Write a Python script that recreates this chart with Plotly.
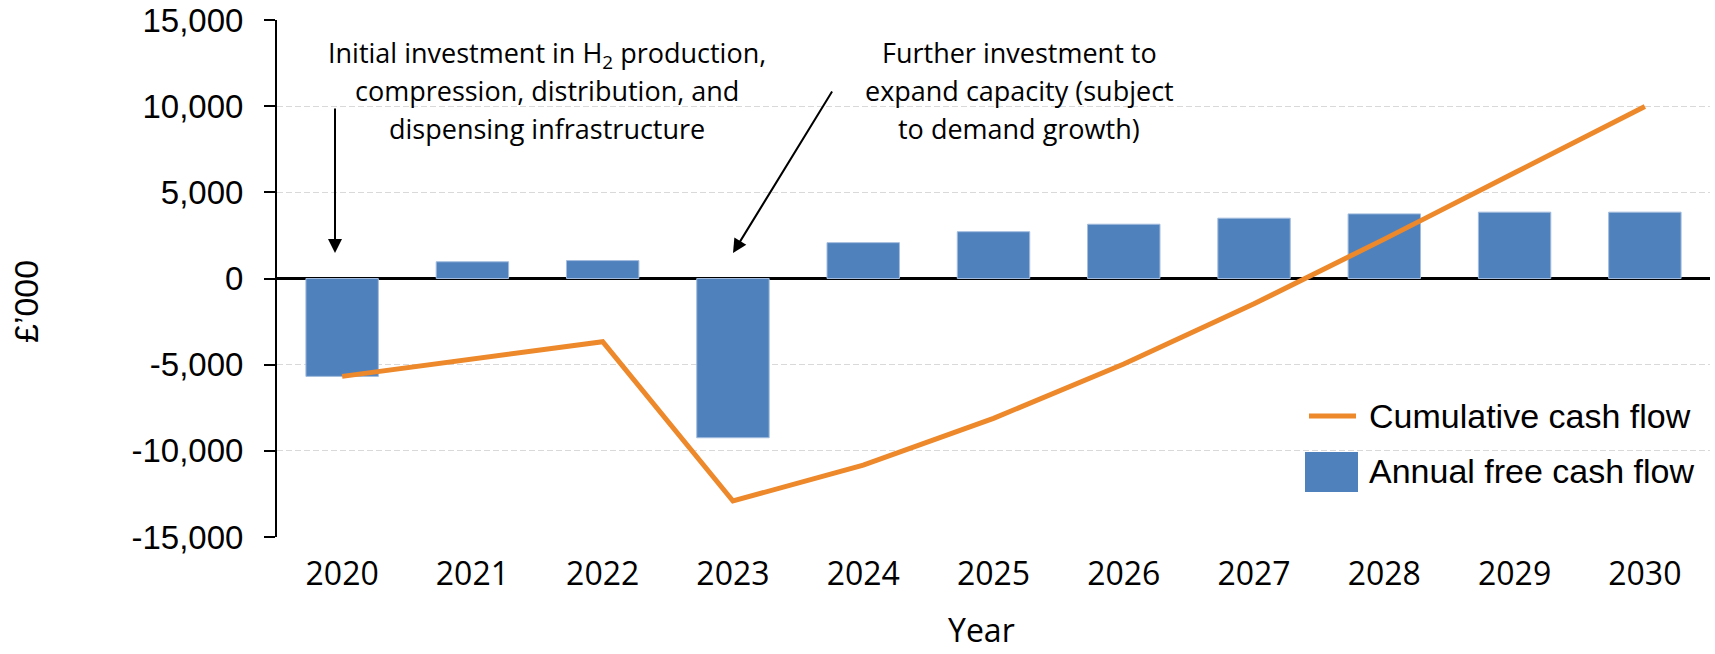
import plotly.graph_objects as go

# ---------------- data ----------------
years = ["2020", "2021", "2022", "2023", "2024", "2025", "2026", "2027", "2028", "2029", "2030"]
annual_fcf = [-5680, 970, 1040, -9240, 2080, 2715, 3150, 3500, 3750, 3850, 3850]
cumulative_cf = [-5680, -4710, -3670, -12910, -10830, -8115, -4965, -1465, 2285, 6135, 9985]
y_tickvals = [-15000, -10000, -5000, 0, 5000, 10000, 15000]
y_ticktext = ["-15,000", "-10,000", "-5,000", "0", "5,000", "10,000", "15,000"]

BLUE = "#4F81BD"
ORANGE = "#ED882B"

W, H = 1715, 654
L, R, T, B = 277, 5, 20, 117
PW, PH = W - L - R, H - T - B


def px(x):
    return (x - L) / PW


def py(y):
    return (H - B - y) / PH


fig = go.Figure()
fig.add_trace(go.Bar(
    x=years, y=annual_fcf, name="Annual free cash flow",
    marker=dict(color=BLUE, line=dict(color="#A3BCDD", width=1)),
    showlegend=False,
))
fig.add_trace(go.Scatter(
    x=years, y=cumulative_cf, name="Cumulative cash flow", mode="lines",
    line=dict(color=ORANGE, width=5), showlegend=False,
))

ann_font = dict(family="Open Sans", size=27, color="black")
annotations = []
block1 = ["Initial investment in H<sub>2</sub> production,",
          "compression, distribution, and",
          "dispensing infrastructure"]
block2 = ["Further investment to",
          "expand capacity (subject",
          "to demand growth)"]
for txt, yy in zip(block1, [54, 90, 128]):
    annotations.append(dict(x=px(547), y=py(yy), xref="paper", yref="paper",
                            text=txt, showarrow=False, font=ann_font,
                            xanchor="center", yanchor="middle"))
for txt, yy in zip(block2, [52, 90, 128]):
    annotations.append(dict(x=px(1019), y=py(yy), xref="paper", yref="paper",
                            text=txt, showarrow=False, font=ann_font,
                            xanchor="center", yanchor="middle"))

# arrows
annotations.append(dict(x=px(335), y=py(253), xref="paper", yref="paper", text="",
                        showarrow=True, ax=0, ay=-146, arrowhead=2, arrowsize=1.4,
                        arrowwidth=2, arrowcolor="black", standoff=0))
annotations.append(dict(x=px(733), y=py(253), xref="paper", yref="paper", text="",
                        showarrow=True, ax=100, ay=-163, arrowhead=2, arrowsize=1.4,
                        arrowwidth=2, arrowcolor="black", standoff=0))

# axis titles
annotations.append(dict(x=px(26), y=py(301), xref="paper", yref="paper", text="£’000",
                        showarrow=False, textangle=-90,
                        font=dict(family="Liberation Sans, Arial", size=34, color="black"),
                        xanchor="center", yanchor="middle"))
annotations.append(dict(x=px(981), y=py(653), xref="paper", yref="paper", text="Year",
                        showarrow=False,
                        font=dict(family="Open Sans", size=32, color="black"),
                        xanchor="center", yanchor="bottom"))

# custom legend
leg_font = dict(family="Liberation Sans, Arial", size=34, color="black")
annotations.append(dict(x=px(1367), y=py(416), xref="paper", yref="paper",
                        text="Cumulative cash flow", showarrow=False, font=leg_font,
                        xanchor="left", yanchor="middle"))
annotations.append(dict(x=px(1367), y=py(471), xref="paper", yref="paper",
                        text="Annual free cash flow", showarrow=False, font=leg_font,
                        xanchor="left", yanchor="middle"))
shapes = [
    dict(type="line", xref="paper", yref="paper", x0=px(1309), x1=px(1356),
         y0=py(416), y1=py(416), line=dict(color=ORANGE, width=5)),
    dict(type="rect", xref="paper", yref="paper", x0=px(1305), x1=px(1358),
         y0=py(492), y1=py(452), line=dict(width=0), fillcolor=BLUE),
]

fig.update_layout(
    width=W, height=H, autosize=False,
    margin=dict(l=L, r=R, t=T, b=B, pad=0, autoexpand=False),
    paper_bgcolor="white", plot_bgcolor="white",
    bargap=0.444,
    annotations=annotations, shapes=shapes,
    showlegend=False,
)
fig.update_xaxes(
    type="category", showline=False, ticks="", showgrid=False, zeroline=False,
    tickfont=dict(family="Open Sans", size=32, color="black"),
    ticklabelstandoff=15, automargin=False,
)
fig.update_yaxes(
    range=[-15000, 15000], tickvals=y_tickvals, ticktext=y_ticktext,
    showline=True, linecolor="black", linewidth=2,
    ticks="outside", ticklen=11, tickwidth=2, tickcolor="black",
    showgrid=True, gridcolor="#D9D9D9", gridwidth=1, griddash="6px,3px",
    zeroline=True, zerolinecolor="black", zerolinewidth=2.5,
    tickfont=dict(family="Liberation Sans, Arial", size=33, color="black"),
    ticklabelstandoff=14, automargin=False,
)

fig.write_html(
    "out.html",
    config={"displayModeBar": False},
    post_script="document.body.style.margin='0';document.body.style.overflow='hidden';",
)
